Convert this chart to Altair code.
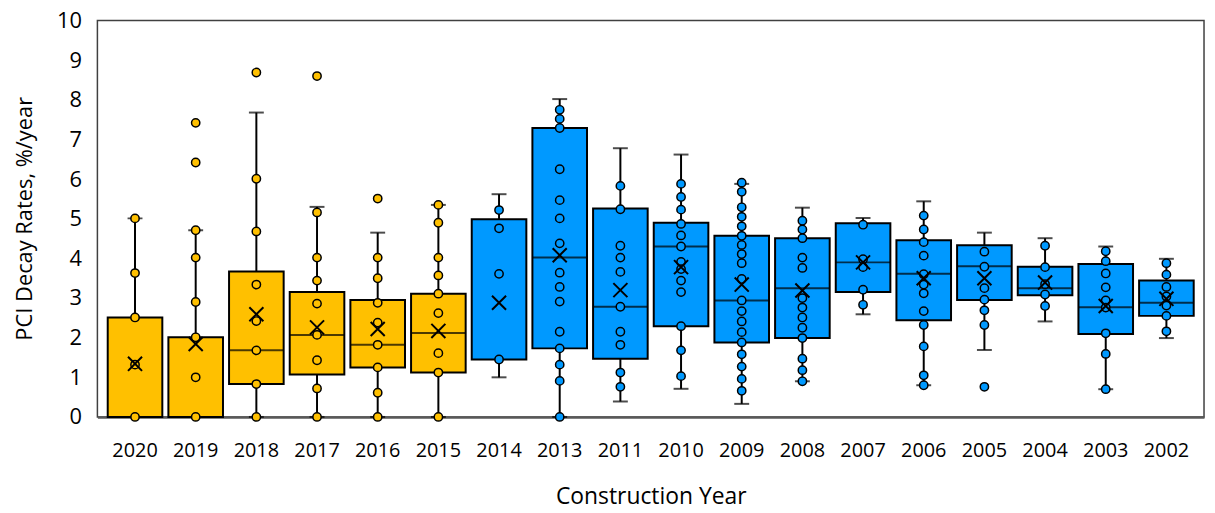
import altair as alt
import pandas as pd

years = ["2020", "2019", "2018", "2017", "2016", "2015", "2014", "2013", "2011",
         "2010", "2009", "2008", "2007", "2006", "2005", "2004", "2003", "2002"]
q1 = [0, 0, 0.83, 1.07, 1.25, 1.12, 1.45, 1.73, 1.47, 2.29, 1.88, 1.99, 3.15, 2.44, 2.95, 3.07, 2.09, 2.55]
median = [0, 0, 1.68, 2.07, 1.82, 2.12, None, 4.02, 2.78, 4.30, 2.94, 3.25, 3.90, 3.61, 3.80, 3.25, 2.77, 2.88]
q3 = [2.51, 2.01, 3.67, 3.15, 2.95, 3.11, 4.99, 7.29, 5.26, 4.90, 4.57, 4.51, 4.89, 4.46, 4.33, 3.79, 3.86, 3.44]
whisker_low = [0, 0, 0, 0, 0, 0, 1.00, 0, 0.39, 0.71, 0.33, 0.90, 2.59, 0.80, 1.69, 2.41, 0.70, 1.99]
whisker_high = [5.01, 4.71, 7.68, 5.30, 4.65, 5.35, 5.62, 8.02, 6.78, 6.62, 5.88, 5.28, 5.02, 5.44, 4.65, 4.51, 4.30, 3.99]
mean = [1.34, 1.84, 2.59, 2.26, 2.22, 2.17, 2.88, 4.08, 3.20, 3.78, 3.34, 3.19, 3.90, 3.50, 3.50, 3.39, 2.80, 2.98]
y_ticks = [0, 1, 2, 3, 4, 5, 6, 7, 8, 9, 10]

points = [
    [5.01, 3.63, 2.51, 1.32, 0],
    [7.42, 6.42, 4.71, 4.02, 2.90, 2.01, 1.00, 0],
    [8.69, 6.01, 4.68, 3.34, 2.42, 1.68, 0.83, 0],
    [8.60, 5.16, 4.02, 3.44, 2.86, 2.07, 1.43, 0.72, 0],
    [5.51, 4.02, 3.50, 2.88, 2.38, 1.82, 1.25, 0.61, 0],
    [5.35, 4.90, 4.02, 3.57, 3.11, 2.62, 1.61, 1.12, 0],
    [5.22, 4.76, 3.61, 1.45],
    [7.75, 7.52, 7.29, 6.25, 5.47, 5.01, 4.38, 3.64, 3.28, 2.91, 2.15, 1.73, 1.32, 0.91, 0],
    [5.83, 5.24, 4.32, 4.02, 3.66, 2.78, 2.15, 1.82, 1.12, 0.76],
    [5.88, 5.55, 5.23, 4.87, 4.58, 4.30, 3.91, 3.73, 3.44, 3.15, 2.29, 1.68, 1.03],
    [5.91, 5.68, 5.29, 5.05, 4.81, 4.57, 4.34, 4.11, 3.88, 3.48, 2.94, 2.67, 2.41, 2.14, 1.88, 1.58, 1.27, 0.96, 0.66],
    [4.95, 4.73, 4.51, 4.02, 3.76, 3.00, 2.76, 2.51, 2.25, 1.99, 1.47, 1.18, 0.90],
    [4.85, 3.98, 3.78, 3.21, 2.83],
    [5.08, 4.73, 4.41, 4.07, 3.60, 3.34, 3.12, 2.67, 2.32, 1.78, 1.05, 0.80],
    [4.17, 3.79, 3.25, 2.96, 2.69, 2.32, 0.76],
    [4.32, 3.78, 3.35, 3.09, 2.80],
    [4.18, 3.93, 3.62, 3.27, 2.94, 2.76, 2.11, 1.59, 0.70],
    [3.88, 3.59, 3.28, 3.04, 2.81, 2.55, 2.16],
]

def period(y):
    return "2015-2020" if int(y) >= 2015 else "2002-2014"

stats = pd.DataFrame({
    "year": years, "q1": q1, "median": median, "q3": q3,
    "wlo": whisker_low, "whi": whisker_high, "mean": mean,
})
stats["period"] = stats["year"].map(period)

pts = pd.DataFrame(
    [{"year": y, "value": v} for y, vals in zip(years, points) for v in vals]
)
pts["period"] = pts["year"].map(period)

FONT = "Open Sans"
color_scale = alt.Scale(domain=["2015-2020", "2002-2014"], range=["#FFC000", "#0099FF"])

x_enc = alt.X(
    "year:N",
    sort=years,
    scale=alt.Scale(domain=years, paddingInner=0.1, paddingOuter=0.17),
    axis=alt.Axis(
        title="Construction Year", labelAngle=0, ticks=False, labelPadding=40,
        labelBaseline="alphabetic", labelFontSize=20, labelFont=FONT, labelColor="black",
        labelOverlap=False,
        titleFont=FONT, titleFontSize=23, titleFontWeight="normal", titleColor="black",
        titleBaseline="alphabetic", titleY=87.5, domainColor="#595959", domainWidth=2.5,
    ),
)
y_scale = alt.Scale(domain=[0, 10], nice=False)
y_axis = alt.Axis(
    title="PCI Decay Rates, %/year", values=y_ticks, grid=False, ticks=False,
    domain=False, labelFontSize=22, labelFont=FONT, labelColor="black", labelPadding=16,
    labelOverlap=False,
    titleFont=FONT, titleFontSize=22, titleFontWeight="normal", titleColor="black",
    titleAngle=-90, titleBaseline="alphabetic", titleX=-66, titleY=199, titleAlign="center",
)

def Y(field):
    return alt.Y(field, scale=y_scale, axis=y_axis, title="PCI Decay Rates, %/year")

base = alt.Chart(stats)

whisk_hi = base.mark_rule(color="black", strokeWidth=2).encode(
    x=x_enc, y=Y("q3:Q"), y2="whi:Q")
whisk_lo = base.mark_rule(color="black", strokeWidth=2).encode(
    x=x_enc, y=Y("wlo:Q"), y2="q1:Q")
cap_hi = base.mark_tick(color="black", thickness=2, size=15).encode(
    x=x_enc, y=Y("whi:Q"))
cap_lo = base.mark_tick(color="black", thickness=2, size=15).encode(
    x=x_enc, y=Y("wlo:Q"))
box = base.mark_bar(stroke="black", strokeWidth=2, opacity=1).encode(
    x=x_enc, y=Y("q1:Q"), y2="q3:Q",
    color=alt.Color("period:N", scale=color_scale, legend=None))
med = base.mark_tick(color="black", thickness=2, size=55).encode(
    x=x_enc, y=Y("median:Q"))
dots = alt.Chart(pts).mark_point(
    filled=True, size=70, stroke="black", strokeWidth=1.5, opacity=1, shape="circle"
).encode(
    x=x_enc, y=Y("value:Q"),
    fill=alt.Fill("period:N", scale=color_scale, legend=None))
mean_mark = base.mark_point(
    shape="M-1,-1L1,1M1,-1L-1,1", filled=False, color="black", size=200,
    strokeWidth=2, opacity=1
).encode(x=x_enc, y=Y("mean:Q"))

chart = alt.layer(
    whisk_hi, whisk_lo, cap_hi, cap_lo, box, med, dots, mean_mark
).properties(
    width=1114, height=399,
    autosize=alt.AutoSizeParams(type="none"),
    padding={"left": 90, "top": 11, "right": 3, "bottom": 93.5},
    background="white",
).configure_view(
    stroke="#404040", strokeWidth=1.5
).configure_axisY(
    labelOverlap=False
)

chart.save("out.html", embed_options={"renderer": "svg", "actions": False})
